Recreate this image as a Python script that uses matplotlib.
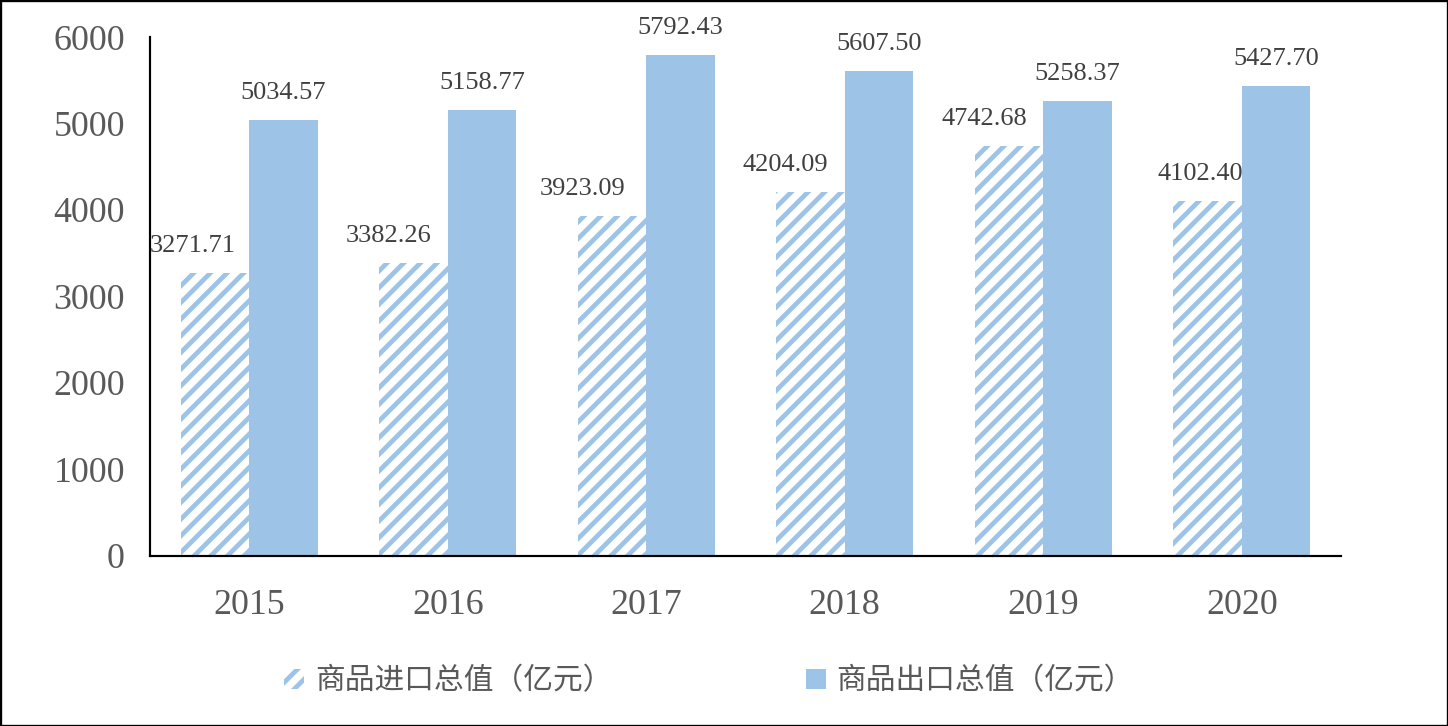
import numpy as np
import matplotlib.pyplot as plt
import matplotlib as mpl
from matplotlib.patches import Rectangle

plt.rcParams['font.family'] = ['Liberation Serif', 'Noto Sans CJK SC']
plt.rcParams['hatch.linewidth'] = 3.4

years = ['2015', '2016', '2017', '2018', '2019', '2020']
imports = [3271.71, 3382.26, 3923.09, 4204.09, 4742.68, 4102.40]
exports = [5034.57, 5158.77, 5792.43, 5607.50, 5258.37, 5427.70]
import_label = '商品进口总值（亿元）'
export_label = '商品出口总值（亿元）'

# label nudges (pixels) for the import values, as in the source chart
import_dx = [-22, -25, -29, -25, -25, -7]

blue = '#9DC3E6'
dpi = 100
fig = plt.figure(figsize=(1448 / dpi, 726 / dpi), dpi=dpi)
ax = fig.add_axes([150 / 1448, (726 - 555.5) / 726, (1341 - 150) / 1448, (555.5 - 37) / 726])

x = np.arange(len(years))
w = 0.345
b1 = ax.bar(x - w / 2, imports, w, facecolor='white', edgecolor=blue, hatch='//',
            linewidth=0, label=import_label)
b2 = ax.bar(x + w / 2, exports, w, color=blue, linewidth=0, label=export_label)

for i in range(len(years)):
    ax.annotate(f'{imports[i]:.2f}', (x[i] - w / 2, imports[i]), xytext=(import_dx[i], 21),
                textcoords='offset pixels', ha='center', va='baseline',
                fontsize=19, color='#404040')
    ax.annotate(f'{exports[i]:.2f}', (x[i] + w / 2, exports[i]), xytext=(0, 21),
                textcoords='offset pixels', ha='center', va='baseline',
                fontsize=19, color='#404040')

ax.set_xlim(-0.5, len(years) - 0.5)
ax.set_ylim(0, 6000)
ax.set_yticks(np.arange(0, 6001, 1000))
ax.set_xticks(x)
ax.set_xticklabels(years)
ax.tick_params(axis='both', length=0, labelsize=25.8, labelcolor='#595959')
ax.tick_params(axis='y', pad=18)
ax.tick_params(axis='x', pad=24)
for s in ['top', 'right']:
    ax.spines[s].set_visible(False)
for s in ['left', 'bottom']:
    ax.spines[s].set_linewidth(1.56)
    ax.spines[s].set_color('black')

fig.legend(handles=[b1, b2], loc='center left', bbox_to_anchor=(284 / 1448, (726 - 681) / 726),
           ncol=2, frameon=False, fontsize=21.4, labelcolor='#595959',
           handlelength=0.68, handleheight=0.68, handletextpad=0.36, columnspacing=6.5,
           borderpad=0, borderaxespad=0)

fig.add_artist(Rectangle((0, 0), 1, 1, transform=fig.transFigure, fill=False,
                         edgecolor='black', linewidth=2.4))

fig.savefig('out.png', dpi=dpi)
